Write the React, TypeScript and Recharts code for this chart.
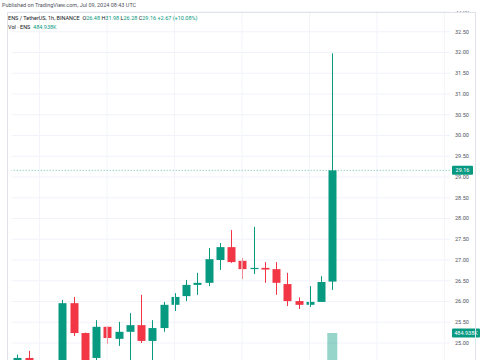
import React from 'react';
import { ComposedChart, Bar, XAxis, YAxis, CartesianGrid, ReferenceLine } from 'recharts';

const times = [
  '07-08 04:00', '07-08 05:00', '07-08 06:00', '07-08 07:00', '07-08 08:00', '07-08 09:00',
  '07-08 10:00', '07-08 11:00', '07-08 12:00', '07-08 13:00', '07-08 14:00', '07-08 15:00',
  '07-08 16:00', '07-08 17:00', '07-08 18:00', '07-08 19:00', '07-08 20:00', '07-08 21:00',
  '07-08 22:00', '07-08 23:00', '07-09 00:00', '07-09 01:00', '07-09 02:00', '07-09 03:00',
  '07-09 04:00', '07-09 05:00', '07-09 06:00', '07-09 07:00', '07-09 08:00', '07-09 09:00',
  '07-09 10:00', '07-09 11:00', '07-09 12:00', '07-09 13:00', '07-09 14:00', '07-09 15:00',
  '07-09 16:00', '07-09 17:00', '07-09 18:00',
];

const opens = [24.45, 24.64, null, null, 24.4, 25.96, 25.24, 24.64, 25.39, 25.1, 25.27, 25.43, 25.05, 25.36, 25.92, 26.13, 26.4, 26.45, 27.0, 27.31, 26.98, 26.8, 26.81, 26.78, 26.42, 26.01, 25.92, 25.99, 26.48];
const highs = [24.72, 24.81, null, null, 26.04, 26.11, 25.25, 25.55, 25.4, 25.51, 25.72, 26.16, 25.55, 25.99, 26.2, 26.52, 26.69, 27.29, 27.41, 27.72, 27.05, 27.8, 26.95, 26.95, 26.69, 26.1, 26.37, 26.61, 31.98];
const lows = [24.35, 24.35, null, null, 24.3, 25.17, 24.45, 24.5, 24.98, 24.93, 24.55, 25.0, 24.55, 25.27, 25.77, 26.01, 26.16, 26.37, 26.76, 26.93, 26.54, 26.66, 26.45, 26.16, 25.89, 25.82, 25.87, 25.99, 26.28];
const closes = [24.64, 24.45, null, null, 25.96, 25.24, 24.55, 25.39, 25.12, 25.27, 25.43, 25.05, 25.36, 25.92, 26.11, 26.4, 26.45, 27.02, 27.31, 26.95, 26.78, 26.81, 26.77, 26.45, 26.01, 25.92, 25.99, 26.47, 29.16];
const volumes = [null, null, null, null, null, null, null, null, null, null, null, null, null, null, null, null, null, null, null, null, null, null, null, null, null, null, null, null, 484938];

const priceTicks = [25, 25.5, 26, 26.5, 27, 27.5, 28, 28.5, 29, 29.5, 30, 30.5, 31, 31.5, 32, 32.5, 33];
const gridTimes = ['07-08 06:00', '07-08 12:00', '07-08 18:00', '07-09 00:00', '07-09 06:00', '07-09 12:00', '07-09 18:00'];
const lastPrice = 29.16;
const lastVolume = 484938;
const lastVolumeLabel = '484.938K';

const GREEN = '#089981';
const RED = '#f23645';
const FONT = 'Roboto, "Noto Sans", sans-serif';

const data = times.map((t, i) => ({
  t,
  o: opens[i] ?? null,
  h: highs[i] ?? null,
  l: lows[i] ?? null,
  c: closes[i] ?? null,
  range: opens[i] != null ? [lows[i], highs[i]] : null,
  v: volumes[i] ?? null,
}));

const Candle = (props: any) => {
  const { x, y, width, height, payload } = props;
  if (!payload || payload.o == null) return null;
  const hi = payload.h;
  const lo = payload.l;
  const top = Math.min(y, y + height);
  const bot = Math.max(y, y + height);
  const k = (bot - top) / (hi - lo);
  const py = (p: number) => top + (hi - p) * k;
  const up = payload.c >= payload.o;
  const color = up ? GREEN : RED;
  const cx = Math.round(x + width / 2) + 0.5;
  const bTop = py(Math.max(payload.o, payload.c));
  const bBot = py(Math.min(payload.o, payload.c));
  const bw = 8;
  return (
    <g>
      <line x1={cx} x2={cx} y1={top} y2={bot} stroke={color} strokeWidth={1} />
      <rect x={cx - bw / 2} y={bTop} width={bw} height={Math.max(1.2, bBot - bTop)} fill={color} />
    </g>
  );
};

const BoxLabel = (text: string, w: number) => (props: any) => {
  const vb = props.viewBox || {};
  const x0 = vb.x + vb.width + 2;
  const y0 = vb.y;
  return (
    <g>
      <rect x={x0} y={y0 - 4.5} width={w} height={9} fill={GREEN} rx={1} />
      <text x={x0 + w / 2} y={y0 + 0.3} fill="#ffffff" fontSize={5.5} fontFamily={FONT} textAnchor="middle" dominantBaseline="middle">
        {text}
      </text>
    </g>
  );
};

export default function App() {
  return (
    <div style={{ position: 'absolute', left: 0, top: 0, width: 485, height: 360, overflow: 'hidden', background: '#fff', fontFamily: FONT }}>
      <div style={{ position: 'absolute', left: 0, top: 0 }}>
        <ComposedChart width={485} height={385} data={data} margin={{ top: 11, right: 9, bottom: 0.5, left: 11.4 }}>
          <XAxis xAxisId="main" dataKey="t" hide />
          <XAxis xAxisId="vx" dataKey="t" hide />
          <YAxis
            yAxisId="price"
            orientation="right"
            width={26}
            domain={[24, 33]}
            ticks={priceTicks}
            allowDataOverflow
            axisLine={false}
            tickLine={false}
            tickSize={0}
            tickMargin={5}
            interval={0}
            tick={{ fontSize: 5.5, fill: '#50535e', fontFamily: FONT }}
            tickFormatter={(v: number) => v.toFixed(2)}
          />
          <YAxis yAxisId="vol" hide domain={[0, 3517000]} allowDataOverflow />
          <CartesianGrid xAxisId="main" yAxisId="price" vertical={false} stroke="#f0f3fa" strokeWidth={1} />
          {gridTimes.map((g) => (
            <ReferenceLine key={g} xAxisId="main" yAxisId="price" x={g} stroke="#f2f4f9" strokeWidth={1} />
          ))}
          <Bar xAxisId="vx" yAxisId="vol" dataKey="v" barSize={10} fill="rgba(8,153,129,0.42)" isAnimationActive={false} />
          <Bar xAxisId="main" yAxisId="price" dataKey="range" barSize={8} shape={Candle} isAnimationActive={false} />
          <ReferenceLine
            xAxisId="main"
            yAxisId="price"
            y={lastPrice}
            stroke={GREEN}
            strokeOpacity={0.4}
            strokeDasharray="1.5 1.5"
            strokeWidth={1}
            label={BoxLabel(lastPrice.toFixed(2), 21)}
          />
          <ReferenceLine
            xAxisId="vx"
            yAxisId="vol"
            y={lastVolume}
            stroke="none"
            label={BoxLabel(lastVolumeLabel, 28)}
          />
        </ComposedChart>
      </div>
      <div style={{ position: 'absolute', left: 0, top: 0, width: 485, height: 11, background: '#fff' }} />
      <div style={{ position: 'absolute', left: 7, top: 12, width: 469, height: 360, borderLeft: '1px solid #e0e3eb', borderTop: '1px solid #e0e3eb', borderRight: '1px solid #e0e3eb', boxSizing: 'border-box', pointerEvents: 'none' }} />
      <div style={{ position: 'absolute', left: 2, top: 2, fontSize: 5.5, color: '#50535e', whiteSpace: 'nowrap', lineHeight: '7px' }}>
        Published on TradingView.com, Jul 09, 2024 08:43 UTC
      </div>
      <div style={{ position: 'absolute', left: 8, top: 15, fontSize: 5.5, color: '#131722', whiteSpace: 'nowrap', lineHeight: '7px' }}>
        ENS / TetherUS, 1h, BINANCE&nbsp;&nbsp;O<span style={{ color: GREEN }}>26.48</span> H<span style={{ color: GREEN }}>31.98</span> L<span style={{ color: GREEN }}>26.28</span> C<span style={{ color: GREEN }}>29.16</span> <span style={{ color: GREEN }}>+2.67 (+10.08%)</span>
      </div>
      <div style={{ position: 'absolute', left: 8, top: 24, fontSize: 5.5, color: '#131722', whiteSpace: 'nowrap', lineHeight: '7px' }}>
        Vol · ENS&nbsp;&nbsp;<span style={{ color: GREEN }}>484.938K</span>
      </div>
    </div>
  );
}
